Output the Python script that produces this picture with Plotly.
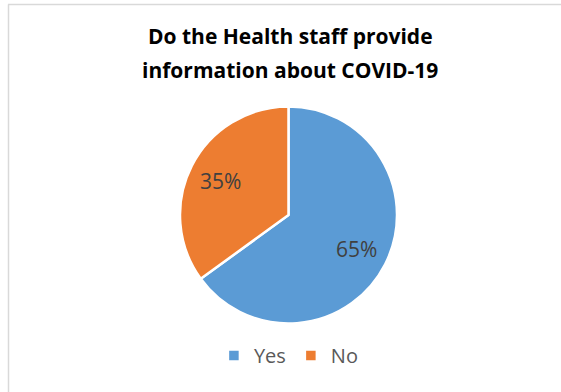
import math
import plotly.graph_objects as go

# Survey responses
answers = ["Yes", "No"]
shares = [65, 35]
slice_colors = ["#5B9BD5", "#ED7D31"]
title_lines = ["Do the Health staff provide", "information about COVID-19"]

W, H = 561, 392

# Pie placement in pixels (centre and radius)
cx, cy, rad = 288.5, 215.0, 108.5
label_frac = 0.70

fig = go.Figure(
    go.Pie(
        labels=answers,
        values=shares,
        sort=False,
        direction="clockwise",
        rotation=0,
        marker=dict(colors=slice_colors, line=dict(color="white", width=2.5)),
        textinfo="none",
        hoverinfo="label+percent",
        domain=dict(x=[(cx - rad) / W, (cx + rad) / W],
                    y=[1 - (cy + rad) / H, 1 - (cy - rad) / H]),
    )
)

annotations = []
# Percentage labels placed along each slice's mid-angle
total = sum(shares)
cum = 0.0
for val in shares:
    mid = (cum + val / 2) / total * 2 * math.pi
    cum += val
    px = cx + label_frac * rad * math.sin(mid)
    py = cy - label_frac * rad * math.cos(mid)
    annotations.append(dict(
        text=f"{round(val / total * 100)}%",
        x=px / W, y=1 - py / H, xref="paper", yref="paper",
        xanchor="center", yanchor="middle", showarrow=False,
        font=dict(family="Open Sans", size=21, color="#404040"),
    ))

# Two-line bold title
for line, ty in zip(title_lines, [36, 70]):
    annotations.append(dict(
        text=f"<b>{line}</b>",
        x=290 / W, y=1 - ty / H, xref="paper", yref="paper",
        xanchor="center", yanchor="middle", showarrow=False,
        font=dict(family="Open Sans", size=21, color="#000000"),
    ))

fig.update_layout(
    width=W,
    height=H,
    margin=dict(l=0, r=0, t=0, b=0),
    paper_bgcolor="white",
    plot_bgcolor="white",
    showlegend=True,
    legend=dict(
        orientation="h",
        x=0.515,
        xanchor="center",
        y=1 - 336 / H,
        yanchor="top",
        font=dict(family="Open Sans", size=20, color="#595959"),
        itemwidth=30,
    ),
    annotations=annotations,
    shapes=[
        dict(type="line", xref="paper", yref="paper",
             x0=8 / W, x1=1.01, y0=1 - 4.5 / H, y1=1 - 4.5 / H,
             line=dict(color="#D9D9D9", width=1.5)),
        dict(type="line", xref="paper", yref="paper",
             x0=8.5 / W, x1=8.5 / W, y0=-0.01, y1=1 - 4.5 / H,
             line=dict(color="#D9D9D9", width=1.5)),
    ],
)

fig.write_html("out.html")
